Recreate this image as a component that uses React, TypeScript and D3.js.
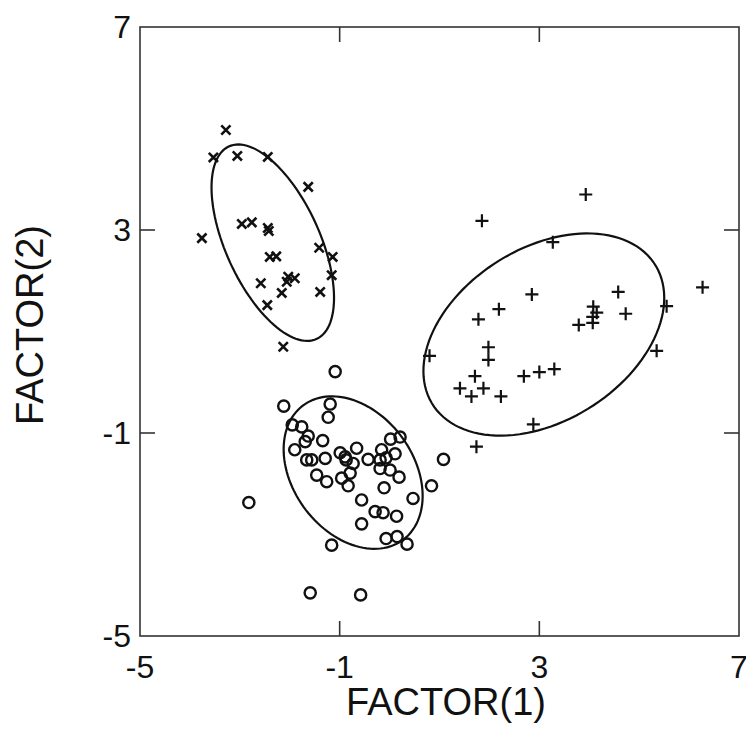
import * as d3 from "d3";

const W = 746;
const H = 729;

// group 1 (x markers)
const crossPts: [number, number][] = [
  [-3.28, 4.97], [-3.53, 4.43], [-3.05, 4.46], [-2.44, 4.44], [-1.63, 3.85],
  [-3.76, 2.84], [-2.96, 3.12], [-2.76, 3.15], [-2.44, 3.04], [-2.42, 2.98],
  [-2.40, 2.47], [-2.27, 2.48], [-1.41, 2.65], [-1.14, 2.47], [-1.16, 2.11],
  [-1.39, 1.78], [-2.58, 1.95], [-2.03, 2.08], [-1.90, 2.05], [-2.06, 1.98],
  [-2.16, 1.76], [-2.45, 1.52], [-2.13, 0.70],
];

// group 2 (+ markers)
const plusPts: [number, number][] = [
  [3.93, 3.70], [1.85, 3.18], [3.27, 2.76], [6.27, 1.87], [4.58, 1.78],
  [2.85, 1.73], [2.19, 1.44], [1.78, 1.24], [4.08, 1.49], [4.15, 1.37],
  [4.07, 1.29], [4.73, 1.35], [3.79, 1.13], [4.07, 1.17], [5.55, 1.50],
  [5.35, 0.62], [0.80, 0.52], [1.98, 0.69], [1.98, 0.44], [1.71, 0.12],
  [1.41, -0.12], [1.88, -0.12], [1.64, -0.28], [2.23, -0.28], [2.69, 0.12],
  [3.00, 0.20], [3.30, 0.26], [2.88, -0.83], [1.74, -1.27],
];

// group 3 (o markers)
const circlePts: [number, number][] = [
  [-1.09, 0.21], [-2.12, -0.47], [-1.19, -0.43], [-1.23, -0.69], [-1.95, -0.84],
  [-1.76, -0.88], [-1.63, -1.06], [-1.69, -1.17], [-1.34, -1.15], [-1.90, -1.33],
  [-1.66, -1.53], [-1.56, -1.53], [-1.29, -1.50], [-1.46, -1.83], [-1.26, -1.96],
  [-0.99, -1.39], [-0.87, -1.53], [-0.89, -1.47], [-0.66, -1.30], [-0.73, -1.60],
  [-0.96, -1.89], [-0.83, -2.04], [-0.79, -1.79], [-0.43, -1.52], [-0.16, -1.33],
  [-0.19, -1.53], [-0.07, -1.49], [0.02, -1.12], [0.21, -1.08], [0.11, -1.41],
  [0.01, -1.73], [-0.19, -1.70], [0.19, -1.87], [-0.11, -2.08], [0.84, -2.04],
  [0.47, -2.29], [1.08, -1.52], [-0.56, -2.32], [-0.29, -2.55], [-0.13, -2.57],
  [0.14, -2.64], [-0.56, -2.79], [-0.07, -3.08], [0.15, -3.04], [0.35, -3.19],
  [-1.16, -3.21], [-2.82, -2.37], [-1.59, -4.15], [-0.58, -4.19],
];

// ellipses: centre, semi-axes, rotation (degrees)
const ellCx = [-2.34, 3.09, -0.73];
const ellCy = [2.75, 0.94, -1.78];
const ellA = [2.09, 2.62, 1.66];
const ellB = [0.94, 1.71, 1.2];
const ellRot = [-65, 31, -52];

const tickVals = [-5, -1, 3, 7];
const innerTicks = [-1, 3];

export default function App() {
  const x = d3.scaleLinear().domain([-5, 7]).range([140, 739]);
  const y = d3.scaleLinear().domain([-5, 7]).range([636, 27]);

  const line = d3
    .line<[number, number]>()
    .x((d) => x(d[0]))
    .y((d) => y(d[1]))
    .curve(d3.curveLinearClosed);

  const angles = d3.range(0, 360, 3).map((a) => (a * Math.PI) / 180);
  const ellipses = ellCx.map((cx, i) => {
    const phi = (ellRot[i] * Math.PI) / 180;
    const pts: [number, number][] = angles.map((t) => [
      cx + ellA[i] * Math.cos(t) * Math.cos(phi) - ellB[i] * Math.sin(t) * Math.sin(phi),
      ellCy[i] + ellA[i] * Math.cos(t) * Math.sin(phi) + ellB[i] * Math.sin(t) * Math.cos(phi),
    ]);
    return line(pts) as string;
  });

  const tl = 15;
  const axisCol = "#333";
  const font = "'Liberation Sans', Arial, Helvetica, sans-serif";

  return (
    <svg
      width={W}
      height={H}
      style={{ position: "absolute", left: 0, top: 0, background: "#fff" }}
    >
      {/* frame */}
      <rect
        x={x(-5)}
        y={y(7)}
        width={x(7) - x(-5)}
        height={y(-5) - y(7)}
        fill="none"
        stroke={axisCol}
        strokeWidth={1.6}
      />
      {innerTicks.map((v) => (
        <g key={"t" + v} stroke={axisCol} strokeWidth={1.6}>
          <line x1={x(v)} x2={x(v)} y1={y(-5)} y2={y(-5) - tl} />
          <line x1={x(v)} x2={x(v)} y1={y(7)} y2={y(7) + tl} />
          <line x1={x(-5)} x2={x(-5) + tl} y1={y(v)} y2={y(v)} />
          <line x1={x(7)} x2={x(7) - tl} y1={y(v)} y2={y(v)} />
        </g>
      ))}

      {/* tick labels */}
      <g fontFamily={font} fontSize={32} fill="#111">
        {tickVals.map((v) => (
          <text key={"xl" + v} x={x(v)} y={678} textAnchor="middle">
            {v}
          </text>
        ))}
        {tickVals.map((v) => (
          <text
            key={"yl" + v}
            x={131}
            y={y(v)}
            textAnchor="end"
            dominantBaseline="central"
          >
            {v}
          </text>
        ))}
      </g>

      {/* axis titles */}
      <text
        x={446}
        y={715}
        textAnchor="middle"
        fontFamily={font}
        fontSize={38}
        fill="#111"
      >
        FACTOR(1)
      </text>
      <text
        transform={`translate(43,${325}) rotate(-90)`}
        textAnchor="middle"
        fontFamily={font}
        fontSize={38}
        fill="#111"
      >
        FACTOR(2)
      </text>

      {/* ellipses */}
      {ellipses.map((d, i) => (
        <path key={"e" + i} d={d} fill="none" stroke="#111" strokeWidth={2.2} />
      ))}

      {/* x markers */}
      <g stroke="#111" strokeWidth={2.6} fill="none">
        {crossPts.map((p, i) => {
          const cx = x(p[0]);
          const cy = y(p[1]);
          const s = 4.6;
          return (
            <path
              key={"c" + i}
              d={`M${cx - s},${cy - s}L${cx + s},${cy + s}M${cx - s},${cy + s}L${cx + s},${cy - s}`}
            />
          );
        })}
      </g>

      {/* + markers */}
      <g stroke="#111" strokeWidth={2.2} fill="none">
        {plusPts.map((p, i) => {
          const cx = x(p[0]);
          const cy = y(p[1]);
          const s = 6.5;
          return (
            <path
              key={"p" + i}
              d={`M${cx - s},${cy}L${cx + s},${cy}M${cx},${cy - s}L${cx},${cy + s}`}
            />
          );
        })}
      </g>

      {/* o markers */}
      <g stroke="#111" strokeWidth={2.4} fill="none">
        {circlePts.map((p, i) => (
          <circle key={"o" + i} cx={x(p[0])} cy={y(p[1])} r={5.6} />
        ))}
      </g>
    </svg>
  );
}
